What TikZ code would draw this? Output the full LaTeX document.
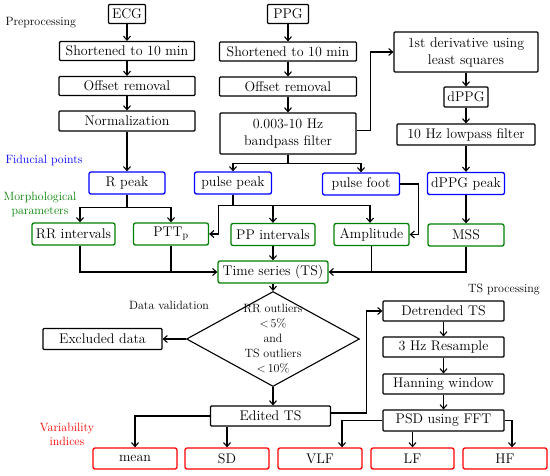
\documentclass[tikz,border=0pt]{standalone}
\usepackage{tikz}
\usetikzlibrary{arrows.meta,positioning,shapes.geometric}

\begin{document}
\begin{tikzpicture}[
  x=1pt, y=-1pt,
  font=\fontsize{14}{17}\selectfont,
  >={Straight Barb[length=4pt,width=7pt]},
  stepbox/.style={draw=black, line width=1.1pt, rounded corners=1pt,
    fill=white, align=center, inner sep=1pt, minimum height=19pt},
  fidbox/.style={stepbox, draw=blue, line width=1.3pt, rounded corners=2pt,
    minimum height=22pt},
  morphbox/.style={stepbox, draw=green!50!black, line width=1.3pt,
    rounded corners=2pt, minimum height=22pt},
  varbox/.style={stepbox, draw=red, line width=1.3pt, rounded corners=2pt,
    minimum width=84pt, minimum height=21pt},
  checkbox/.style={diamond, draw=black, line width=1.1pt, inner sep=0pt,
    minimum width=173pt, minimum height=95pt},
  arrow/.style={->, line width=1.1pt},
  line/.style={line width=1.1pt},
  tag/.style={font=\fontsize{12}{14}\selectfont, align=center}
]
  \useasboundingbox (0,0) rectangle (550,475);

  % ECG column
  \node[stepbox, minimum width=37pt] (ecg) at (127,14) {ECG};
  \node[stepbox, minimum width=135pt] (cutecg) at (127,51) {Shortened to 10 min};
  \node[stepbox, minimum width=136pt] (offecg) at (127,86) {Offset removal};
  \node[stepbox, minimum width=136pt, minimum height=20pt] (norm) at (127,121) {Normalization};
  \node[fidbox, minimum width=76pt] (rpeak) at (127,183) {R peak};

  % PPG column
  \node[stepbox, minimum width=41pt] (ppg) at (288,14) {PPG};
  \node[stepbox, minimum width=137pt] (cutppg) at (288,51.5) {Shortened to 10 min};
  \node[stepbox, minimum width=137pt] (offppg) at (288,86.5) {Offset removal};
  \node[stepbox, minimum width=136pt, minimum height=41pt] (band) at (288,133.5)
    {0.003-10 Hz\\bandpass filter};
  \node[fidbox, minimum width=77pt] (ppeak) at (233,183) {pulse peak};
  \node[fidbox, minimum width=77pt] (pfoot) at (361,184) {pulse foot};

  % derivative column
  \node[stepbox, minimum width=144pt, minimum height=40pt] (deriv) at (466,52)
    {1st derivative using\\least squares};
  \node[stepbox, minimum width=44pt, minimum height=20pt] (dppg) at (466,97) {dPPG};
  \node[stepbox, minimum width=138pt, minimum height=21pt] (lowp) at (466,134.5) {10 Hz lowpass filter};
  \node[fidbox, minimum width=77pt] (dpeak) at (466,183.5) {dPPG peak};

  % parameters
  \node[morphbox, minimum width=83pt] (rr) at (73.5,234) {RR intervals};
  \node[morphbox, minimum width=75pt] (ptt) at (171,234) {PTT$_\mathrm{p}$};
  \node[morphbox, minimum width=84pt] (pp) at (273,234.5) {PP intervals};
  \node[morphbox, minimum width=75pt] (amp) at (371.5,234.5) {Amplitude};
  \node[morphbox, minimum width=76pt] (mss) at (466,235) {MSS};
  \node[morphbox, minimum width=110pt] (ts) at (273,272) {Time series (TS)};

  % validation
  \node[checkbox, label={[tag, font=\fontsize{12}{15}\selectfont]center:RR outliers\\$<$\,5\%\\and\\TS outliers\\$<$\,10\%}]
    (valid) at (273,339) {};
  \node[stepbox, minimum width=119pt, minimum height=21pt] (excl) at (102.5,339) {Excluded data};
  \node[stepbox, minimum width=120pt, minimum height=20pt] (edit) at (270.5,416) {Edited TS};

  % TS processing
  \node[stepbox, minimum width=121pt, minimum height=20pt] (detr) at (443.5,311) {Detrended TS};
  \node[stepbox, minimum width=121pt, minimum height=20pt] (res) at (443.5,347) {3 Hz Resample};
  \node[stepbox, minimum width=121pt, minimum height=20pt] (hann) at (443.5,384) {Hanning window};
  \node[stepbox, minimum width=121pt, minimum height=21pt] (psd) at (443.5,420.5) {PSD using FFT};

  % indices
  \node[varbox] (mean) at (135,458.5) {mean};
  \node[varbox] (sd) at (227,458.5) {SD};
  \node[varbox] (vlf) at (320,458.5) {VLF};
  \node[varbox, minimum width=83pt] (lf) at (412.5,458.5) {LF};
  \node[varbox] (hf) at (505,458.5) {HF};

  % stage labels
  \node[tag, anchor=west] (preplabel) at (2,23) {Preprocessing};
  \node[tag, anchor=west, text=blue] (fidlabel) at (2,160) {Fiducial points};
  \node[tag, text=green!50!black] (morphlabel) at (40,204) {Morphological\\parameters};
  \node[tag] (vallabel) at (169,305) {Data validation};
  \node[tag] (proclabel) at (504,289) {TS processing};
  \node[tag, text=red] (varlabel) at (67,434) {Variability\\indices};

  % preprocessing
  \draw[arrow] (ecg) -- (cutecg);
  \draw[arrow] (cutecg) -- (offecg);
  \draw[arrow] (offecg) -- (norm);
  \draw[arrow] (norm) -- (rpeak);
  \draw[arrow] (ppg) -- (cutppg);
  \draw[arrow] (cutppg) -- (offppg);
  \draw[arrow] (offppg) -- (band);
  \draw[arrow] ([yshift=3pt]band.east) -- ++(14pt,0) |- (deriv.west);
  \draw[arrow] (deriv) -- (dppg);
  \draw[arrow] (dppg) -- (lowp);
  \draw[arrow] (lowp) -- (dpeak);

  % fiducial points to parameters
  \draw[arrow] (rpeak.south) -- ++(0,-13pt) -| ([xshift=6.5pt]rr.north);
  \draw[arrow] (rpeak.south) -- ++(0,-13pt) -| (ptt.north);
  \draw[arrow] (band.south) -- ++(0,-9pt) -| (ppeak.north);
  \draw[arrow] (band.south) -- ++(0,-9pt) -| (pfoot.north);
  \draw[arrow] (ppeak.south) -- ++(0,-11pt) -| ([xshift=9.5pt]ptt.east) -- (ptt.east);
  \draw[arrow] (ppeak.south) -- ++(0,-11pt) -| (pp.north);
  \draw[arrow] (ppeak.south) -- ++(0,-11pt) -| ([xshift=-1.5pt]amp.north);
  \draw[arrow] (pfoot.east) -| ([xshift=9pt]amp.east) -- (amp.east);
  \draw[arrow] (dpeak) -- (mss);

  % time series
  \draw[arrow] ([xshift=6.5pt]rr.south) |- (ts.west);
  \draw[line] (ptt.south) -- (ptt.south |- ts.west);
  \draw[arrow] (pp) -- (ts);
  \draw[line] (amp.south) -- (amp.south |- ts.east);
  \draw[arrow] (mss.south) |- (ts.east);

  % validation and spectra
  \draw[arrow] (ts) -- (valid);
  \draw[arrow] (valid.west) -- (excl.east);
  \draw[arrow] (valid.south) -- (valid.south |- edit.north);
  \draw[arrow] ([yshift=3pt]edit.east) -- ++(35pt,0) |- (detr.west);
  \draw[arrow] (edit.west) -| (mean.north);
  \draw[arrow] (edit.south -| sd.north) -- (sd.north);
  \draw[arrow] (detr) -- (res);
  \draw[arrow] (res) -- (hann);
  \draw[arrow] (hann) -- (psd);
  \draw[arrow] (psd.west) -| ([xshift=22pt]vlf.north);
  \draw[arrow] (psd.south -| lf.north) -- (lf.north);
  \draw[arrow] (psd.east) -| ([xshift=7pt]hf.north);
\end{tikzpicture}
\end{document}
